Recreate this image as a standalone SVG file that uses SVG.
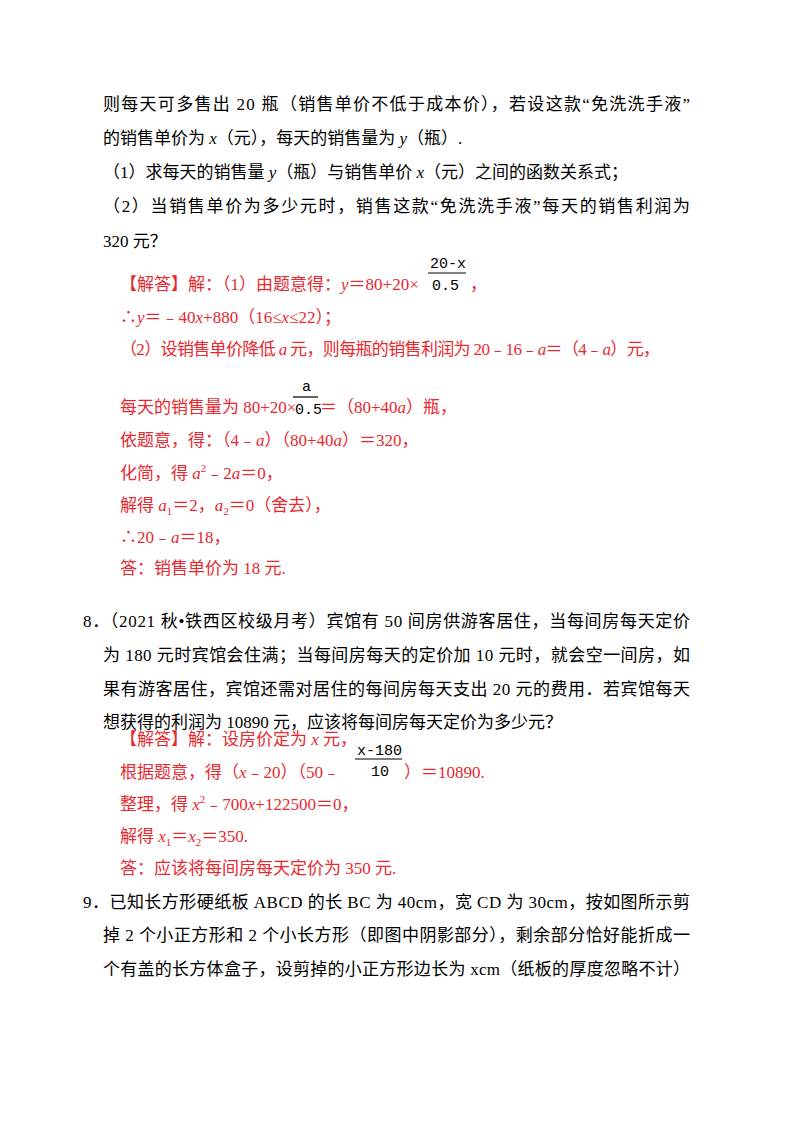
<svg xmlns="http://www.w3.org/2000/svg" width="800" height="1132" viewBox="0 0 800 1132">
<style>
text{font-family:"Liberation Serif","Noto Sans CJK SC",serif;font-size:17px;fill:#000}
.r{fill:#e8282f}
.f{font-family:"Liberation Mono","Noto Sans CJK SC",monospace;font-size:15px;fill:#000}
</style>
<rect width="800" height="1132" fill="#fff"/>
<text x="103" y="110" textLength="587" lengthAdjust="spacing">则每天可多售出 20 瓶（销售单价不低于成本价），若设这款“免洗洗手液”</text>
<text x="103" y="144">的销售单价为 <tspan font-style="italic">x</tspan>（元），每天的销售量为 <tspan font-style="italic">y</tspan>（瓶）.</text>
<text x="103" y="178">（1）求每天的销售量 <tspan font-style="italic">y</tspan>（瓶）与销售单价 <tspan font-style="italic">x</tspan>（元）之间的函数关系式；</text>
<text x="103" y="212" textLength="587" lengthAdjust="spacing">（2）当销售单价为多少元时，销售这款“免洗洗手液”每天的销售利润为</text>
<text x="103" y="247">320 元？</text>

<text class="r" x="120" y="290">【解答】解：（1）由题意得：<tspan font-style="italic">y</tspan>＝80+20×</text>
<text class="f" x="430" y="268">20-x</text>
<line x1="428" y1="273" x2="466" y2="273" stroke="#000" stroke-width="1.2"/>
<text class="f" x="432" y="290">0.5</text>
<text class="r" x="470" y="290">，</text>
<text class="r" x="120" y="323">∴<tspan font-style="italic">y</tspan>＝﹣40<tspan font-style="italic">x</tspan>+880（16≤<tspan font-style="italic">x</tspan>≤22）；</text>
<text class="r" x="120" y="355" textLength="540" lengthAdjust="spacing">（2）设销售单价降低 <tspan font-style="italic">a</tspan> 元，则每瓶的销售利润为 20﹣16﹣<tspan font-style="italic">a</tspan>＝（4﹣<tspan font-style="italic">a</tspan>）元，</text>
<text class="r" x="120" y="413">每天的销售量为 80+20×</text>
<text class="f" x="302" y="391">a</text>
<line x1="293" y1="397" x2="318" y2="397" stroke="#000" stroke-width="1.2"/>
<text class="f" x="295" y="414">0.5</text>
<text class="r" x="320" y="413">＝（80+40<tspan font-style="italic">a</tspan>）瓶，</text>
<text class="r" x="120" y="446">依题意，得：（4﹣<tspan font-style="italic">a</tspan>）（80+40<tspan font-style="italic">a</tspan>）＝320，</text>
<text class="r" x="120" y="479">化简，得 <tspan font-style="italic">a</tspan><tspan font-size="11" dy="-7">2</tspan><tspan dy="7">﹣2<tspan font-style="italic">a</tspan>＝0，</tspan></text>
<text class="r" x="120" y="511">解得 <tspan font-style="italic">a</tspan><tspan font-size="11" dy="4">1</tspan><tspan dy="-4">＝2，</tspan><tspan font-style="italic">a</tspan><tspan font-size="11" dy="4">2</tspan><tspan dy="-4">＝0（舍去），</tspan></text>
<text class="r" x="120" y="543">∴20﹣<tspan font-style="italic">a</tspan>＝18，</text>
<text class="r" x="120" y="574">答：销售单价为 18 元.</text>

<text x="83" y="627" textLength="607" lengthAdjust="spacing">8．（2021 秋•铁西区校级月考）宾馆有 50 间房供游客居住，当每间房每天定价</text>
<text x="103" y="661" textLength="587" lengthAdjust="spacing">为 180 元时宾馆会住满；当每间房每天的定价加 10 元时，就会空一间房，如</text>
<text x="103" y="695" textLength="587" lengthAdjust="spacing">果有游客居住，宾馆还需对居住的每间房每天支出 20 元的费用．若宾馆每天</text>
<text x="103" y="728">想获得的利润为 10890 元，应该将每间房每天定价为多少元？</text>
<text class="r" x="120" y="745">【解答】解：设房价定为 <tspan font-style="italic">x</tspan> 元，</text>
<text class="r" x="120" y="778">根据题意，得（<tspan font-style="italic">x</tspan>﹣20）（50﹣</text>
<text class="f" x="357" y="755">x-180</text>
<line x1="355" y1="759" x2="402" y2="759" stroke="#000" stroke-width="1.2"/>
<text class="f" x="371" y="776">10</text>
<text class="r" x="404" y="778">）＝10890.</text>
<text class="r" x="120" y="810">整理，得 <tspan font-style="italic">x</tspan><tspan font-size="11" dy="-7">2</tspan><tspan dy="7">﹣700<tspan font-style="italic">x</tspan>+122500＝0，</tspan></text>
<text class="r" x="120" y="842">解得  <tspan font-style="italic">x</tspan><tspan font-size="11" dy="4">1</tspan><tspan dy="-4">＝<tspan font-style="italic">x</tspan></tspan><tspan font-size="11" dy="4">2</tspan><tspan dy="-4">＝350.</tspan></text>
<text class="r" x="120" y="874">答：应该将每间房每天定价为 350 元.</text>

<text x="83" y="908" textLength="607" lengthAdjust="spacing">9．已知长方形硬纸板 ABCD 的长 BC 为 40cm，宽 CD 为 30cm，按如图所示剪</text>
<text x="103" y="941" textLength="587" lengthAdjust="spacing">掉 2 个小正方形和 2 个小长方形（即图中阴影部分），剩余部分恰好能折成一</text>
<text x="103" y="975" textLength="587" lengthAdjust="spacing">个有盖的长方体盒子，设剪掉的小正方形边长为 xcm（纸板的厚度忽略不计）</text>
</svg>
